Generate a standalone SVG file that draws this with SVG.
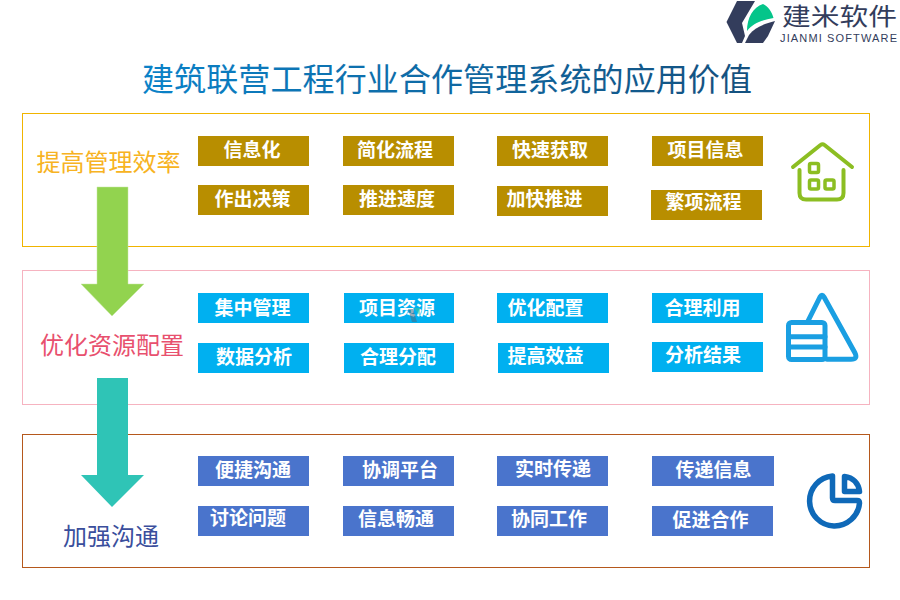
<svg xmlns="http://www.w3.org/2000/svg" width="900" height="600" viewBox="0 0 900 600">
<style>
text{font-family:"Noto Sans CJK SC","Liberation Sans",serif;}
.t{font-size:19px;font-weight:700;fill:#fff;text-anchor:middle;}
.g{fill:#b88e00}.b{fill:#00b0f0}.l{fill:#4a74cc}
.h{font-size:24px;text-anchor:middle}
.ic{fill:none;stroke-linecap:round;stroke-linejoin:round}
</style>
<rect width="900" height="600" fill="#fff"/>
<g id="logo">
<path d="M737 1H755L742 23L745 36L742 43H737L726.500 22Z" fill="#333d5c"/>
<path d="M747 31C747 18 753 7 763 4C768 6 772 12 773.500 18C762 20 753 23 747 31Z" fill="#05c58a"/>
<path d="M745 43L749 35C755 27 764 24 775 21L768 36L763 43Z" fill="#333d5c"/>
<text x="782" y="25" font-size="24" fill="#333d5c" textLength="115" lengthAdjust="spacingAndGlyphs">建米软件</text>
<text x="780" y="42" font-size="11" fill="#333d5c" style="font-family:'Liberation Sans',sans-serif" textLength="117">JIANMI SOFTWARE</text>
</g>
<defs>
<linearGradient id="tg" x1="0" x2="1" y1="0" y2="0"><stop offset="0" stop-color="#0a82c8"/><stop offset="1" stop-color="#14507e"/></linearGradient>
</defs>
<text id="title" x="142" y="91" font-size="32" fill="url(#tg)" textLength="610">建筑联营工程行业合作管理系统的应用价值</text>
<g id="panels" fill="none">
<rect id="panel1" x="22.5" y="113.5" width="847" height="133" stroke="#f0b400"/>
<rect id="panel2" x="22.5" y="270.5" width="847" height="134" stroke="#f6b3c0"/>
<rect id="panel3" x="22.5" y="434.5" width="847" height="133" stroke="#b5581c"/>
</g>
<g id="connectors">
<path d="M97 187H128V284H144L112 316L81 284H97Z" fill="#92d34f" stroke="#c6e5a2" stroke-width=".5"/>
<path d="M97 378H128V475H144L112 507L81 475H97Z" fill="#2fc4b6"/>
</g>
<g id="heading1"><text class="h" x="108.500" y="171" fill="#f7b322">提高管理效率</text></g>
<g id="heading2"><text class="h" x="112" y="354" fill="#e8506e">优化资源配置</text></g>
<g id="heading3"><text class="h" x="111" y="545" fill="#3a4e9c">加强沟通</text></g>

<g id="n1"><rect class="g" x="198" y="136" width="111" height="30"/><text class="t" x="252" y="157">信息化</text></g>
<g id="n2"><rect class="g" x="343" y="136" width="111" height="30"/><text class="t" x="395" y="157">简化流程</text></g>
<g id="n3"><rect class="g" x="497" y="136" width="111" height="30"/><text class="t" x="550" y="157">快速获取</text></g>
<g id="n4"><rect class="g" x="652" y="136" width="111" height="30"/><text class="t" x="705.500" y="157">项目信息</text></g>
<g id="n5"><rect class="g" x="198" y="185" width="111" height="30"/><text class="t" x="252.500" y="206">作出决策</text></g>
<g id="n6"><rect class="g" x="343" y="185" width="111" height="30"/><text class="t" x="397" y="206">推进速度</text></g>
<g id="n7"><rect class="g" x="497" y="186" width="111" height="30"/><text class="t" x="544.500" y="206">加快推进</text></g>
<g id="n8"><rect class="g" x="651" y="190" width="111" height="30"/><text class="t" x="703.500" y="209">繁项流程</text></g>

<g id="n9"><rect class="b" x="198" y="293" width="111" height="30"/><text class="t" x="252.500" y="315">集中管理</text></g>
<g id="n10"><rect class="b" x="344" y="293" width="110" height="30"/><text class="t" x="397" y="315">项目资源</text></g>
<g id="n11"><rect class="b" x="497" y="293" width="111" height="30"/><text class="t" x="545.500" y="315">优化配置</text></g>
<g id="n12"><rect class="b" x="652" y="293" width="111" height="30"/><text class="t" x="702.500" y="315">合理利用</text></g>
<g id="n13"><rect class="b" x="198" y="343" width="111" height="30"/><text class="t" x="254" y="364">数据分析</text></g>
<g id="n14"><rect class="b" x="344" y="343" width="110" height="30"/><text class="t" x="398" y="364">合理分配</text></g>
<g id="n15"><rect class="b" x="498" y="343" width="111" height="30"/><text class="t" x="545.500" y="363">提高效益</text></g>
<g id="n16"><rect class="b" x="652" y="342" width="111" height="30"/><text class="t" x="703" y="362">分析结果</text></g>

<g id="n17"><rect class="l" x="198" y="456" width="111" height="30"/><text class="t" x="253" y="477">便捷沟通</text></g>
<g id="n18"><rect class="l" x="343" y="456" width="111" height="30"/><text class="t" x="400" y="477">协调平台</text></g>
<g id="n19"><rect class="l" x="497" y="456" width="111" height="30"/><text class="t" x="553" y="476">实时传递</text></g>
<g id="n20"><rect class="l" x="652" y="456" width="122" height="30"/><text class="t" x="713.500" y="477">传递信息</text></g>
<g id="n21"><rect class="l" x="198" y="506" width="111" height="30"/><text class="t" x="248" y="525">讨论问题</text></g>
<g id="n22"><rect class="l" x="343" y="506" width="111" height="30"/><text class="t" x="396" y="526">信息畅通</text></g>
<g id="n23"><rect class="l" x="497" y="506" width="111" height="30"/><text class="t" x="549" y="526">协同工作</text></g>
<g id="n24"><rect class="l" x="652" y="506" width="121" height="30"/><text class="t" x="710.500" y="527">促进合作</text></g>

<g id="watermark" opacity=".55"><path d="M408 309L413 309L417 322L412 322Z" fill="#4a6a80"/><path d="M414 308L420 308L420 316Z" fill="#3fc79a"/></g>

<g id="icon-house" class="ic" stroke="#8cbe22" stroke-width="4">
<path d="M793 167L820.500 145Q822.500 143.500 824.500 145L852 167"/>
<path d="M799.500 170V193Q799.500 199.500 806 199.500H837Q843.500 199.500 843.500 193V170"/>
<g stroke-width="3.500">
<rect x="809.500" y="163.500" width="9" height="9" rx="1.500"/>
<rect x="809.500" y="180" width="9" height="9" rx="1.500"/>
<rect x="825" y="180" width="9" height="9" rx="1.500"/>
</g>
</g>
<g id="icon-pyramid" class="ic" stroke="#1a9fe2" stroke-width="5">
<path d="M808 321L820 297Q822 293.500 824 297L855 353Q858 359.300 851 359.300H827"/>
<rect x="788.500" y="322.500" width="36.500" height="37" rx="3"/>
<path d="M788.500 336.700H825M788.500 347H825"/>
</g>
<g id="icon-pie" class="ic" stroke="#0f69b8" stroke-width="5.500">
<path d="M832.500 476A25 25 0 1 0 859.500 503Q859.500 500.500 857 500.500H835Q832.500 500.500 832.500 498Z"/>
<path d="M844.500 476.500C853 477.500 858.500 483 859.500 491.500H844.500Z"/>
</g>
</svg>
